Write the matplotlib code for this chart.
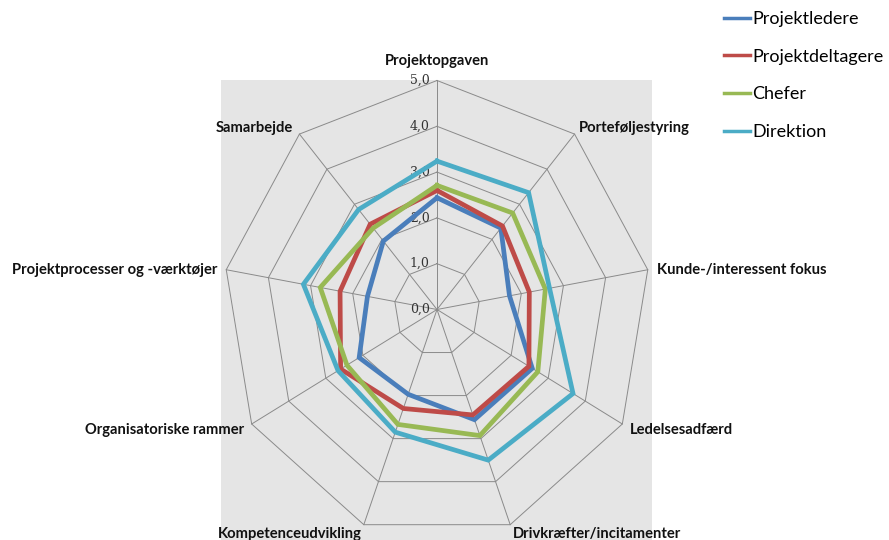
import numpy as np
import matplotlib
matplotlib.use("Agg")
import matplotlib.pyplot as plt

# data (9 axes, clockwise from the top)
categories = ["Projektopgaven", "Porteføljestyring", "Kunde-/interessent fokus",
              "Ledelsesadfærd", "Drivkræfter/incitamenter", "Kompetenceudvikling",
              "Organisatoriske rammer", "Projektprocesser og -værktøjer", "Samarbejde"]
projektledere = [2.44, 2.32, 1.72, 2.57, 2.56, 1.97, 2.10, 1.65, 1.95]
projektdeltagere = [2.60, 2.38, 2.19, 2.48, 2.45, 2.30, 2.60, 2.30, 2.43]
chefer = [2.71, 2.75, 2.57, 2.72, 2.93, 2.67, 2.43, 2.77, 2.32]
direktion = [3.24, 3.33, 2.67, 3.67, 3.50, 2.85, 2.67, 3.17, 2.85]
series_names = ["Projektledere", "Projektdeltagere", "Chefer", "Direktion"]
colors = ["#4a7ebb", "#be4b48", "#98b954", "#4bacc6"]
ticks = [0, 1, 2, 3, 4, 5]
tick_labels = ["0,0", "1,0", "2,0", "3,0", "4,0", "5,0"]

# layout in pixels (figure is 889x540 at 100 dpi)
W, H = 889, 540
cx, cy = 437, 309.5          # radar centre
sx, sy = 42.8, 45.8          # px per unit, horizontally / vertically
left_px, right_px, top_px = 221, 652, 80

fig = plt.figure(figsize=(W / 100, H / 100), dpi=100)
ax = fig.add_axes([left_px / W, 0, (right_px - left_px) / W, (H - top_px) / H])
ax.set_facecolor("#e5e5e5")
ax.set_xlim(-(cx - left_px) / sx, (right_px - cx) / sx)
ax.set_ylim(-(H - cy) / sy, (cy - top_px) / sy)
ax.set_xticks([])
ax.set_yticks([])
for s in ax.spines.values():
    s.set_visible(False)

n = len(categories)
theta = 2 * np.pi * np.arange(n) / n
sin_t, cos_t = np.sin(theta), np.cos(theta)
rmax = ticks[-1]

# grid: rings and spokes
grid_kw = dict(color="#8a8a8a", lw=0.7, zorder=1, clip_on=False)
for r in ticks[1:]:
    ax.plot(np.r_[r * sin_t, r * sin_t[0]], np.r_[r * cos_t, r * cos_t[0]], **grid_kw)
for i in range(n):
    ax.plot([0, rmax * sin_t[i]], [0, rmax * cos_t[i]], **grid_kw)

# tick labels along the top spoke
for t, lab in zip(ticks, tick_labels):
    ax.text(-0.17, t, lab, ha="right", va="center", fontsize=9,
            family="DejaVu Serif", color="#333333", zorder=3)

# series
handles = []
for vals, name, c, z in zip([projektledere, projektdeltagere, chefer, direktion],
                            series_names, colors, range(4)):
    v = np.asarray(vals)
    line, = ax.plot(np.r_[v * sin_t, v[0] * sin_t[0]], np.r_[v * cos_t, v[0] * cos_t[0]],
                    color=c, lw=3.4, solid_joinstyle="miter", zorder=4 + z, label=name)
    handles.append(line)

# category labels (offsets in pixels from the outer vertex)
label_offsets = [(0, 20), (4, 6), (9, 0), (8, -6), (3, -9), (-2, -9), (-8, -6), (-9, 0), (-7, 6)]
label_ha = ["center", "left", "left", "left", "left", "right", "right", "right", "right"]
for i, (cat, off, ha) in enumerate(zip(categories, label_offsets, label_ha)):
    ax.annotate(cat, xy=(rmax * sin_t[i], rmax * cos_t[i]), xytext=off,
                textcoords="offset pixels", ha=ha, va="center",
                fontsize=10.6, family="Lato", fontweight="bold", color="#111111",
                annotation_clip=False, zorder=10)

fig.legend(handles=handles, loc="upper left", bbox_to_anchor=(724 / W, 1 - 11 / H),
           frameon=False, prop={"family": "Lato", "size": 13},
           handlelength=1.45, handletextpad=0.12, labelspacing=1.2, borderpad=0,
           borderaxespad=0)
for lh in fig.legends[0].get_lines():
    lh.set_linewidth(2.5)

fig.savefig("out.png", dpi=100)
